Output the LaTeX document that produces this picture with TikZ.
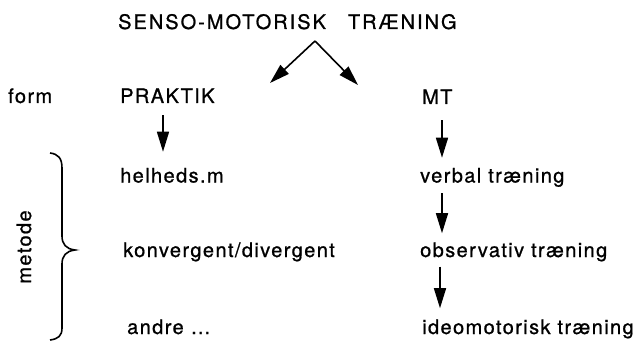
\documentclass[tikz,border=0pt]{standalone}
\usepackage{fontspec}
\setmainfont{TeX Gyre Heros}[LetterSpace=7,FakeBold=0.9]
\usetikzlibrary{arrows.meta}

\begin{document}
\begin{tikzpicture}[x=1pt,y=-1pt,
    lbl/.style={anchor=base west,inner sep=0pt,font=\fontsize{20}{24}\selectfont},
    arr/.style={-{Triangle[length=20pt,width=12pt]},line width=1.6pt}]
  \useasboundingbox (0,0) rectangle (643,342);
  % top level
  \node[lbl] (title) at (118,29) {\addfontfeature{LetterSpace=10}SENSO-MOTORISK\hspace{22pt}TRÆNING};
  \coordinate (split) at (315,41);
  \coordinate (lend) at (270,83);
  \coordinate (rend) at (358,85);
  \draw[arr] (split) -- (lend);
  \draw[arr] (split) -- (rend);
  % rows
  \node[lbl] (form) at (8,103) {form};
  \node[lbl] (praktik) at (120,103) {PRAKTIK};
  \node[lbl] (mt) at (422,104) {MT};
  \node[lbl] (helheds) at (120,182.5) {helheds.m};
  \node[lbl] (konv) at (123,257) {konvergent/divergent};
  \node[lbl] (andre) at (127,334) {andre \dots};
  \node[lbl] (verbal) at (420,182.5) {verbal træning};
  \node[lbl] (observ) at (420,257) {observativ træning};
  \node[lbl] (ideo) at (422,334) {ideomotorisk træning};
  \node[lbl,anchor=center,rotate=90] (metode) at (24,247) {metode};
  % brace
  \draw[line width=1.6pt] (50,153) .. controls (58,154) and (62,158) .. (62,168)
    -- (62,236) .. controls (62,244) and (66,249) .. (75,250)
    .. controls (66,251) and (62,256) .. (62,264)
    -- (62,328) .. controls (62,336) and (58,339) .. (50,340);
  % arrows
  \draw[arr] ([xshift=43pt,yshift=-12pt]praktik.south west) -- ([xshift=43pt,yshift=16pt]helheds.north west);
  \draw[arr] ([xshift=20pt,yshift=-16pt]mt.south west) -- ([xshift=22pt,yshift=10pt]verbal.north west);
  \draw[arr] ([xshift=22pt,yshift=-6pt]verbal.south west) -- ([xshift=22pt,yshift=9pt]observ.north west);
  \draw[arr] ([xshift=20pt,yshift=-5pt]observ.south west) -- ([xshift=18pt,yshift=11pt]ideo.north west);
\end{tikzpicture}
\end{document}
